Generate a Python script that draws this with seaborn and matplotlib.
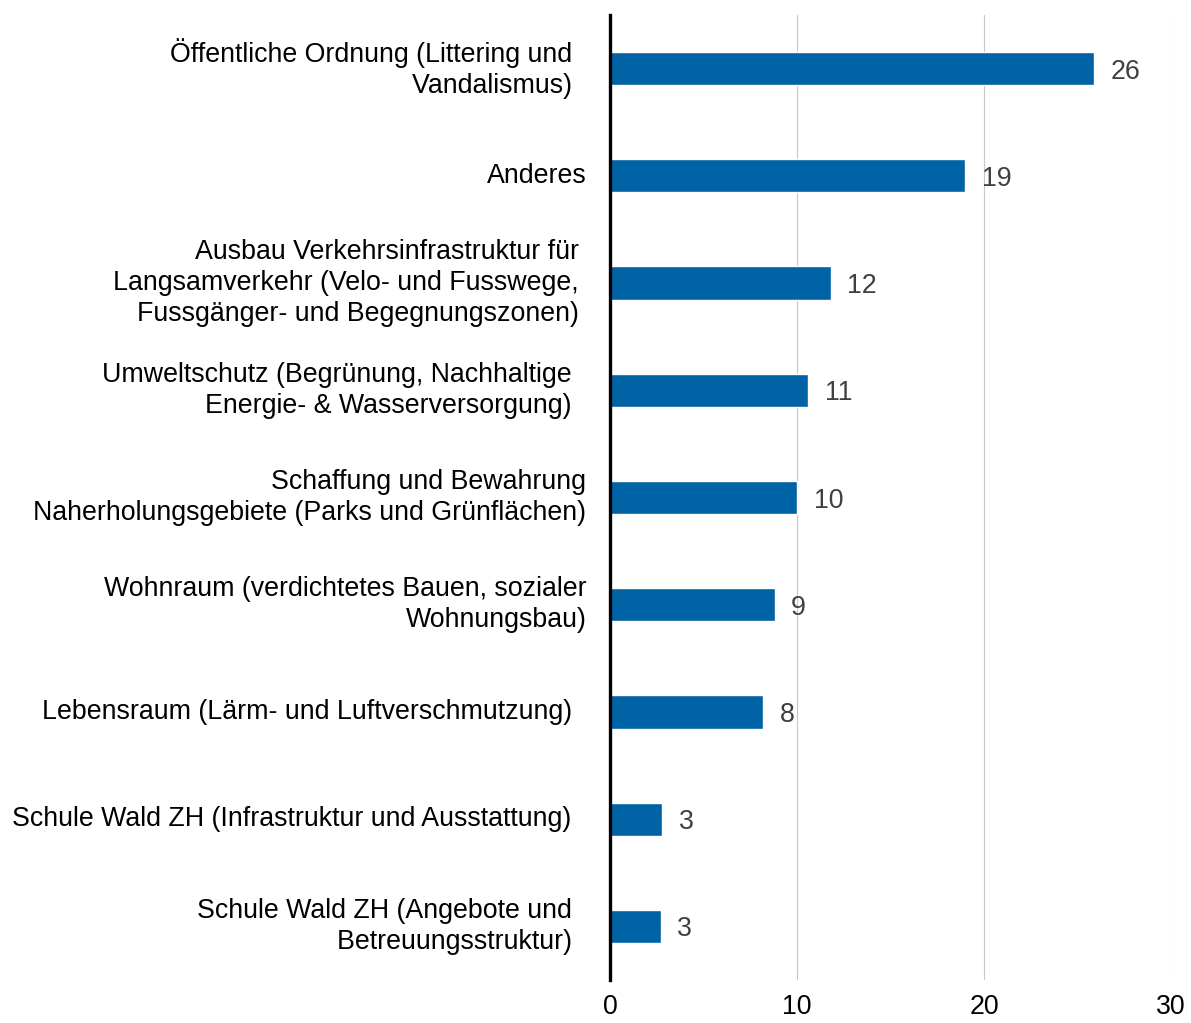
import seaborn as sns
import matplotlib.pyplot as plt
import pandas as pd

# Kategorien (mit den Leerzeichen am Zeilenende wie im Original)
kategorien = [
    "Öffentliche Ordnung (Littering und  \nVandalismus)  ",
    "Anderes",
    "Ausbau Verkehrsinfrastruktur für \nLangsamverkehr (Velo- und Fusswege, \nFussgänger- und Begegnungszonen) ",
    "Umweltschutz (Begrünung, Nachhaltige  \nEnergie- & Wasserversorgung)  ",
    "Schaffung und Bewahrung\nNaherholungsgebiete (Parks und Grünflächen)",
    "Wohnraum (verdichtetes Bauen, sozialer\nWohnungsbau)",
    "Lebensraum (Lärm- und Luftverschmutzung)  ",
    "Schule Wald ZH (Infrastruktur und Ausstattung)  ",
    "Schule Wald ZH (Angebote und  \nBetreuungsstruktur)  ",
]
werte = [25.9, 19.0, 11.8, 10.6, 10.0, 8.8, 8.2, 2.8, 2.7]
x_ticks = [0, 10, 20, 30]

df = pd.DataFrame({"kategorie": kategorien, "wert": werte})

sns.set_theme(style="white")
plt.rcParams["font.family"] = ["Liberation Sans", "DejaVu Sans"]

fig = plt.figure(figsize=(11.91, 10.23), dpi=100)
ax = fig.add_axes([0.5122, 0.042, 0.4710, 0.9433])

sns.barplot(data=df, x="wert", y="kategorie", color="#0063A6",
            saturation=1, width=0.31, ax=ax)

# Datenbeschriftungen
lbls = ax.bar_label(ax.containers[0], labels=[f"{v:.0f}" for v in werte],
                    padding=12, fontsize=19.3, color="#404040")
for t in lbls:
    t.set_va("center_baseline")

ax.set_xlim(0, 30)
ax.set_ylim(8.5, -0.5)
ax.set_xticks(x_ticks)
ax.set_xlabel("")
ax.set_ylabel("")
ax.xaxis.grid(True, color="#c8c8c8", linewidth=0.8)
ax.set_axisbelow(True)

for s in ["top", "right", "bottom"]:
    ax.spines[s].set_visible(False)
ax.spines["left"].set_color("black")
ax.spines["left"].set_linewidth(2.4)
ax.spines["left"].set_zorder(5)

ax.tick_params(axis="x", length=0, pad=10, labelsize=19.3, labelcolor="black")
ax.tick_params(axis="y", length=0, pad=17, labelsize=19.3, labelcolor="black")
for t in ax.get_yticklabels():
    t.set_multialignment("right")
    t.set_linespacing(1.26)
    t.set_va("center")

fig.savefig("out.png", dpi=100)
